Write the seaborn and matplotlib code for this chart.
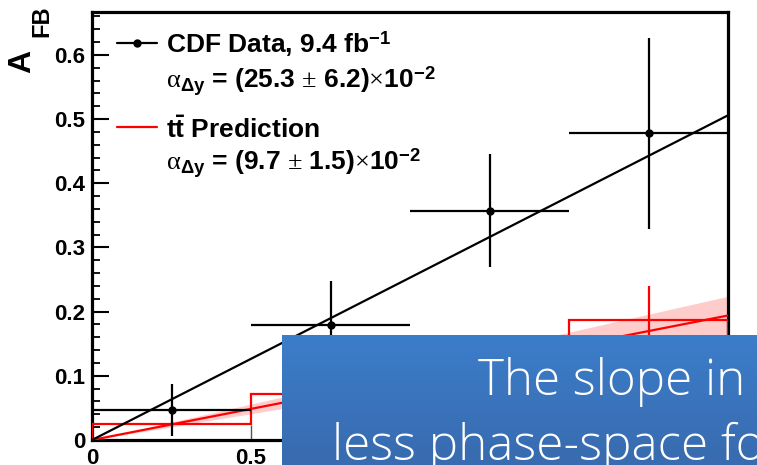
import numpy as np
import matplotlib
matplotlib.use("Agg")
import matplotlib.pyplot as plt
import seaborn as sns
from matplotlib.lines import Line2D
from matplotlib.ticker import MultipleLocator, FuncFormatter
from matplotlib.colors import LinearSegmentedColormap

# Forward-backward asymmetry in bins of |Δy|
bin_edges = [0.0, 0.5, 1.0, 1.5, 2.0]
bin_centers = [0.25, 0.75, 1.25, 1.75]
data_afb = [0.047, 0.179, 0.357, 0.478]
data_err = [0.040, 0.069, 0.088, 0.149]
pred_afb = [0.025, 0.072, 0.121, 0.187]
pred_err = [0.004, 0.012, 0.025, 0.053]

# Linear fits A_FB = alpha * |Δy|
data_slope, data_slope_err = 0.253, 0.062
pred_slope, pred_slope_err = 0.097, 0.015
lumi = 9.4

y_ticks = [0, 0.1, 0.2, 0.3, 0.4, 0.5, 0.6]
x_ticks = [0, 0.5, 1.0, 1.5, 2.0]

sns.set_theme(style="white")
plt.rcParams["font.family"] = ["Liberation Sans", "DejaVu Sans"]
plt.rcParams["text.color"] = "black"
plt.rcParams["xtick.color"] = "black"
plt.rcParams["ytick.color"] = "black"
plt.rcParams["mathtext.fontset"] = "custom"
plt.rcParams["mathtext.rm"] = "Liberation Serif"
plt.rcParams["mathtext.it"] = "Liberation Serif:italic"
plt.rcParams["mathtext.bf"] = "Liberation Sans:bold"

W, H = 757, 465
fig = plt.figure(figsize=(W / 100, H / 100), dpi=100)
fig.patch.set_facecolor("white")


def fx(px):
    return px / W


def fy(py):
    return 1 - py / H


ax = fig.add_axes([fx(92), fy(440), fx(728 - 92), (440 - 12) / H])
ax.set_facecolor("white")
ax.set_xlim(bin_edges[0], bin_edges[-1])
ax.set_ylim(0, 0.667)

# Prediction: slope uncertainty band, fit line, histogram and its errors
fit_x = np.array([bin_edges[0], bin_edges[-1]])
ax.fill_between(fit_x, (pred_slope - pred_slope_err) * fit_x,
                (pred_slope + pred_slope_err) * fit_x,
                color=(1.0, 0.8, 0.8), lw=0, zorder=1)
sns.lineplot(x=fit_x, y=pred_slope * fit_x, color="red", lw=1.6, ax=ax, zorder=3)
ax.stairs(pred_afb, bin_edges, color="red", lw=1.6, baseline=0, zorder=3)
ax.errorbar(bin_centers, pred_afb, yerr=pred_err, fmt="none",
            ecolor="red", elinewidth=1.6, capsize=0, zorder=3)

# Data: fit line and binned measurements
sns.lineplot(x=fit_x, y=data_slope * fit_x, color="black", lw=1.6, ax=ax, zorder=4)
half_widths = [(b - a) / 2 for a, b in zip(bin_edges[:-1], bin_edges[1:])]
ax.errorbar(bin_centers, data_afb, xerr=half_widths, yerr=data_err, fmt="o",
            color="black", ms=5, elinewidth=1.6, capsize=0, zorder=5)

# Frame and ticks
for sp in ax.spines.values():
    sp.set_visible(True)
    sp.set_color("black")
    sp.set_linewidth(2.3)
ax.set_yticks(y_ticks)
ax.set_xticks(x_ticks)
ax.yaxis.set_minor_locator(MultipleLocator(0.02))
fmt = FuncFormatter(lambda v, _: "0" if v == 0 else f"{v:g}")
ax.yaxis.set_major_formatter(fmt)
ax.xaxis.set_major_formatter(fmt)
ax.tick_params(axis="y", which="major", direction="in", length=12, width=1.5,
               color="black", pad=5, left=True)
ax.tick_params(axis="y", which="minor", direction="in", length=6, width=1.3,
               color="black", left=True)
ax.tick_params(axis="x", which="major", direction="in", length=11, width=1.0,
               color="#555555", pad=6, bottom=True)
for lab in ax.get_yticklabels() + ax.get_xticklabels():
    lab.set_fontsize(16)
    lab.set_fontweight("bold")
    lab.set_color("black")

# Axis title A_FB
fig.text(fx(22.5), fy(61), "A", rotation=90, ha="center", va="center",
         fontsize=23, fontweight="bold", color="black")
fig.text(fx(41.5), fy(21), "FB", rotation=90, ha="center", va="center",
         fontsize=17, fontweight="bold", color="black",
         family=["Liberation Sans Narrow", "Liberation Sans"])

# Legend
leg_fs = 19
fig.add_artist(Line2D([fx(117), fx(157)], [fy(43), fy(43)], color="black", lw=1.6))
fig.add_artist(Line2D([fx(137)], [fy(43)], color="black", marker="o", ms=5, lw=0))
fig.add_artist(Line2D([fx(117), fx(157)], [fy(127), fy(127)], color="red", lw=1.6))

fig.text(fx(166), fy(53), f"CDF Data, {lumi:g} fb" + r"$^{\mathbf{-1}}$",
         fontsize=leg_fs, fontweight="bold", va="baseline", color="black")


def slope_label(s, e):
    return (r"$\mathrm{\alpha}_{\mathbf{\Delta y}}$ = ("
            + f"{s * 100:.1f}" + r" $\pm$ " + f"{e * 100:.1f}"
            + r")$\times$10$^{\mathbf{-2}}$")


fig.text(fx(166), fy(88), slope_label(data_slope, data_slope_err),
         fontsize=leg_fs, fontweight="bold", va="baseline", color="black")
fig.text(fx(166), fy(138), r"$\mathbf{t\bar{t}}$ Prediction",
         fontsize=leg_fs, fontweight="bold", va="baseline", color="black")
fig.text(fx(166), fy(170), slope_label(pred_slope, pred_slope_err),
         fontsize=leg_fs, fontweight="bold", va="baseline", color="black")

# Blue caption panel
box = fig.add_axes([fx(282), 0, 1 - fx(282), (465 - 335) / H], zorder=10)
cmap = LinearSegmentedColormap.from_list("panel", ["#3c7dca", "#386baf"])
box.imshow(np.linspace(0, 1, 64).reshape(-1, 1), cmap=cmap, aspect="auto",
           extent=[0, 1, 0, 1], origin="upper")
box.set_xlim(0, 1)
box.set_ylim(0, 1)
box.axis("off")

cap_font = dict(family=["Open Sans", "Lato", "DejaVu Sans"], fontweight="light",
                fontsize=35.5, color="white", va="baseline", ha="left", zorder=11)
fig.text(fx(478), fy(395), "The slope in", **cap_font)
fig.text(fx(332), fy(460), "less phase-space for", **cap_font)

fig.savefig("out.png", dpi=100)
